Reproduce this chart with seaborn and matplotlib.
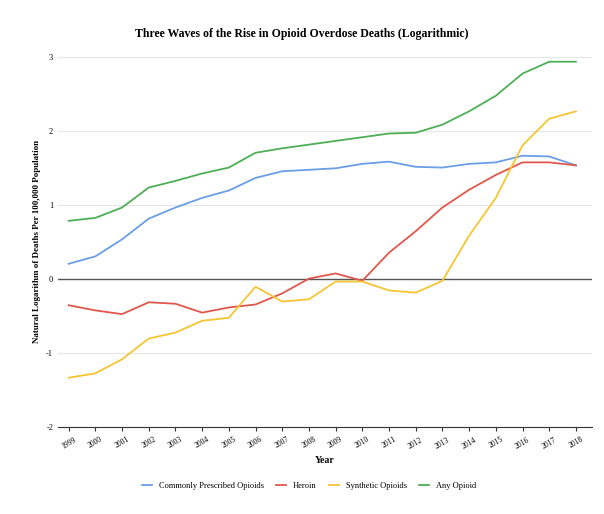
import matplotlib
matplotlib.use("Agg")
import matplotlib.pyplot as plt
import seaborn as sns
import pandas as pd

years = list(range(1999, 2019))
prescribed = [0.20,0.30,0.53,0.81,0.96,1.09,1.19,1.36,1.45,1.47,1.49,1.55,1.58,1.51,1.50,1.55,1.57,1.66,1.65,1.53]
heroin = [-0.36,-0.43,-0.48,-0.32,-0.34,-0.46,-0.39,-0.35,-0.20,0.0,0.07,-0.03,0.35,0.64,0.96,1.20,1.40,1.57,1.57,1.53]
synthetic = [-1.34,-1.28,-1.09,-0.81,-0.73,-0.57,-0.53,-0.11,-0.31,-0.28,-0.04,-0.04,-0.16,-0.19,-0.03,0.58,1.09,1.80,2.16,2.26]
any_opioid = [0.78,0.82,0.96,1.23,1.32,1.42,1.50,1.70,1.76,1.81,1.86,1.91,1.96,1.97,2.08,2.26,2.47,2.77,2.93,2.93]
series_names = ["Commonly Prescribed Opioids","Heroin","Synthetic Opioids","Any Opioid"]
colors = ["#6a9ee6","#e0574c","#f5c533","#4daf55"]

df = pd.DataFrame({"Year": years*4,
                   "val": prescribed+heroin+synthetic+any_opioid,
                   "Series": sum([[n]*len(years) for n in series_names], [])})

plt.rcParams["font.family"] = "Liberation Serif"
plt.rcParams["axes.unicode_minus"] = False
fig = plt.figure(figsize=(6.04,5.14), dpi=100)
ax = fig.add_axes([0.096, 0.17, 0.884, 0.72])
ax.set_axisbelow(True)
ax.axhline(0, color="#555555", lw=1, zorder=2)
sns.lineplot(data=df, x="Year", y="val", hue="Series", palette=colors, ax=ax, lw=1.3, zorder=3)
ax.set_ylim(-2, 3)
ax.set_xlim(1998.6, 2018.6)
ax.set_yticks([-2,-1,0,1,2,3])
ax.set_xticks(years)
ax.set_xticklabels([str(y) for y in years], rotation=30, fontsize=5.5)
ax.tick_params(axis="y", labelsize=6, length=0)
ax.tick_params(axis="x", length=3, color="#333333")
ax.grid(axis="y", color="#e6e6e6", lw=0.8, zorder=0)
for s in ["top","right","left"]:
    ax.spines[s].set_visible(False)
ax.spines["bottom"].set_color("#333333")
ax.set_xlabel("Year", fontsize=7, fontweight="bold")
ax.set_ylabel("Natural Logarithm of Deaths Per 100,000 Population", fontsize=6.5, fontweight="bold")
fig.suptitle("Three Waves of the Rise in Opioid Overdose Deaths (Logarithmic)", fontsize=8.5, fontweight="bold", y=0.945)
ax.legend(loc="upper center", bbox_to_anchor=(0.47, -0.13), ncol=4, frameon=False, fontsize=6, handlelength=1.2, columnspacing=1.5)
fig.savefig("out.png", dpi=100)
